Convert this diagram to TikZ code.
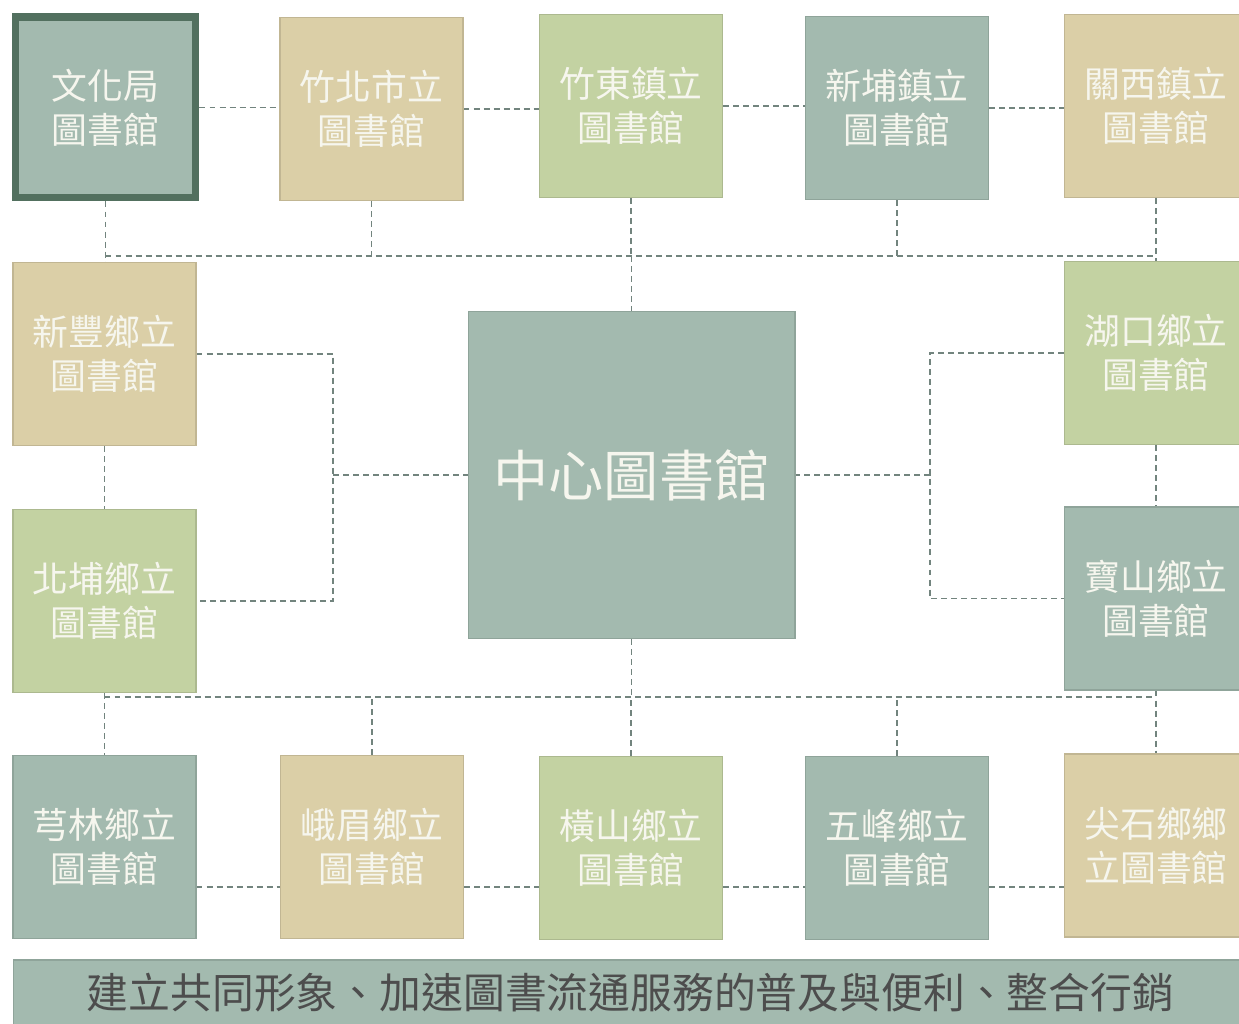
\documentclass[tikz,border=0pt]{standalone}
\usepackage{fontspec}
\setmainfont{Noto Sans CJK TC}
\usetikzlibrary{backgrounds}

\definecolor{libteal}{HTML}{A3BAAF}
\definecolor{libtan}{HTML}{DBCFA7}
\definecolor{libgreen}{HTML}{C3D2A2}
\definecolor{libdark}{HTML}{52705F}
\definecolor{libline}{HTML}{72847E}
\definecolor{libtext}{HTML}{F6F6EE}
\definecolor{goaltext}{HTML}{4D4D4D}

\begin{document}
\begin{tikzpicture}[x=0.02cm, y=-0.02cm,
	lib/.style={draw=#1!88!black, fill=#1, line width=0.6pt, minimum width=3.66cm, minimum height=3.66cm,
		inner sep=0pt, align=center, text=libtext, font=\fontsize{20.4}{25}\selectfont},
	link/.style={draw=libline, line width=0.9pt, dash pattern=on 3.4pt off 2.3pt}]
	\clip (0,0) rectangle (1239,1023);

	% top row
	\node[lib=libteal, draw=libdark, line width=4pt, minimum width=3.62cm, minimum height=3.62cm] (wenhua) at (105.5,107.5) {文化局\\圖書館};
	\node[lib=libtan] (zhubei) at (371.5,109) {竹北市立\\圖書館};
	\node[lib=libgreen] (zhudong) at (631,106) {竹東鎮立\\圖書館};
	\node[lib=libteal] (xinpu) at (897,108) {新埔鎮立\\圖書館};
	\node[lib=libtan] (guanxi) at (1156,106) {關西鎮立\\圖書館};
	% sides
	\node[lib=libtan] (xinfeng) at (104.5,354) {新豐鄉立\\圖書館};
	\node[lib=libgreen] (beipu) at (104.5,601) {北埔鄉立\\圖書館};
	\node[lib=libgreen] (hukou) at (1156,353) {湖口鄉立\\圖書館};
	\node[lib=libteal] (baoshan) at (1156,598.5) {寶山鄉立\\圖書館};
	\node[lib=libteal, minimum width=6.54cm, minimum height=6.54cm, font=\fontsize{31.4}{36}\selectfont] (center) at (631.5,475) {中心圖書館};
	% bottom row
	\node[lib=libteal] (qionglin) at (104.5,847) {芎林鄉立\\圖書館};
	\node[lib=libtan] (emei) at (372,847) {峨眉鄉立\\圖書館};
	\node[lib=libgreen] (hengshan) at (631,848) {橫山鄉立\\圖書館};
	\node[lib=libteal] (wufeng) at (897,848) {五峰鄉立\\圖書館};
	\node[lib=libtan] (jianshi) at (1156,845.5) {尖石鄉鄉\\立圖書館};
	\node[lib=libteal, minimum width=24.7cm, minimum height=1.32cm, text=goaltext, font=\fontsize{23.8}{27}\selectfont] (goal) at (630.5,993) {建立共同形象、加速圖書流通服務的普及與便利、整合行銷};

	\coordinate (topbus) at (0,256);
	\coordinate (botbus) at (0,697);
	\coordinate (botrow) at (0,887);
	\coordinate (leftbus) at (333,475);
	\coordinate (rightbus) at (930,475);

	\begin{scope}[on background layer]
		\foreach \a/\b in {wenhua/zhubei, zhubei/zhudong, zhudong/xinpu, xinpu/guanxi}
			\draw[link] (\a.east) -- (\a.east -| \b.west);
		\foreach \a/\b in {qionglin/emei, emei/hengshan, hengshan/wufeng, wufeng/jianshi}
			\draw[link] (\a.east |- botrow) -- (\b.west |- botrow);
		\draw[link] (wenhua.south) -- (wenhua.south |- xinfeng.north);
		\draw[link] (wenhua.south |- topbus) -- (guanxi.south |- topbus);
		\foreach \n in {zhubei, zhudong, xinpu}
			\draw[link] (\n.south) -- (\n.south |- topbus);
		\draw[link] (guanxi.south) -- (hukou.north);
		\draw[link] (center.north |- topbus) -- (center.north);
		\draw[link] (xinfeng.south) -- (beipu.north);
		\draw[link] (hukou.south) -- (baoshan.north);
		\draw[link] (xinfeng.east) -| (leftbus) |- (beipu.east);
		\draw[link] (leftbus) -- (center.west);
		\draw[link] (hukou.west) -| (rightbus) |- (baoshan.west);
		\draw[link] (rightbus) -- (center.east);
		\draw[link] (beipu.south) -- (qionglin.north);
		\draw[link] (beipu.south |- botbus) -- (baoshan.south |- botbus);
		\foreach \n in {emei, hengshan, wufeng}
			\draw[link] (\n.north) -- (\n.north |- botbus);
		\draw[link] (baoshan.south) -- (jianshi.north);
		\draw[link] (center.south) -- (center.south |- botbus);
	\end{scope}
\end{tikzpicture}
\end{document}
